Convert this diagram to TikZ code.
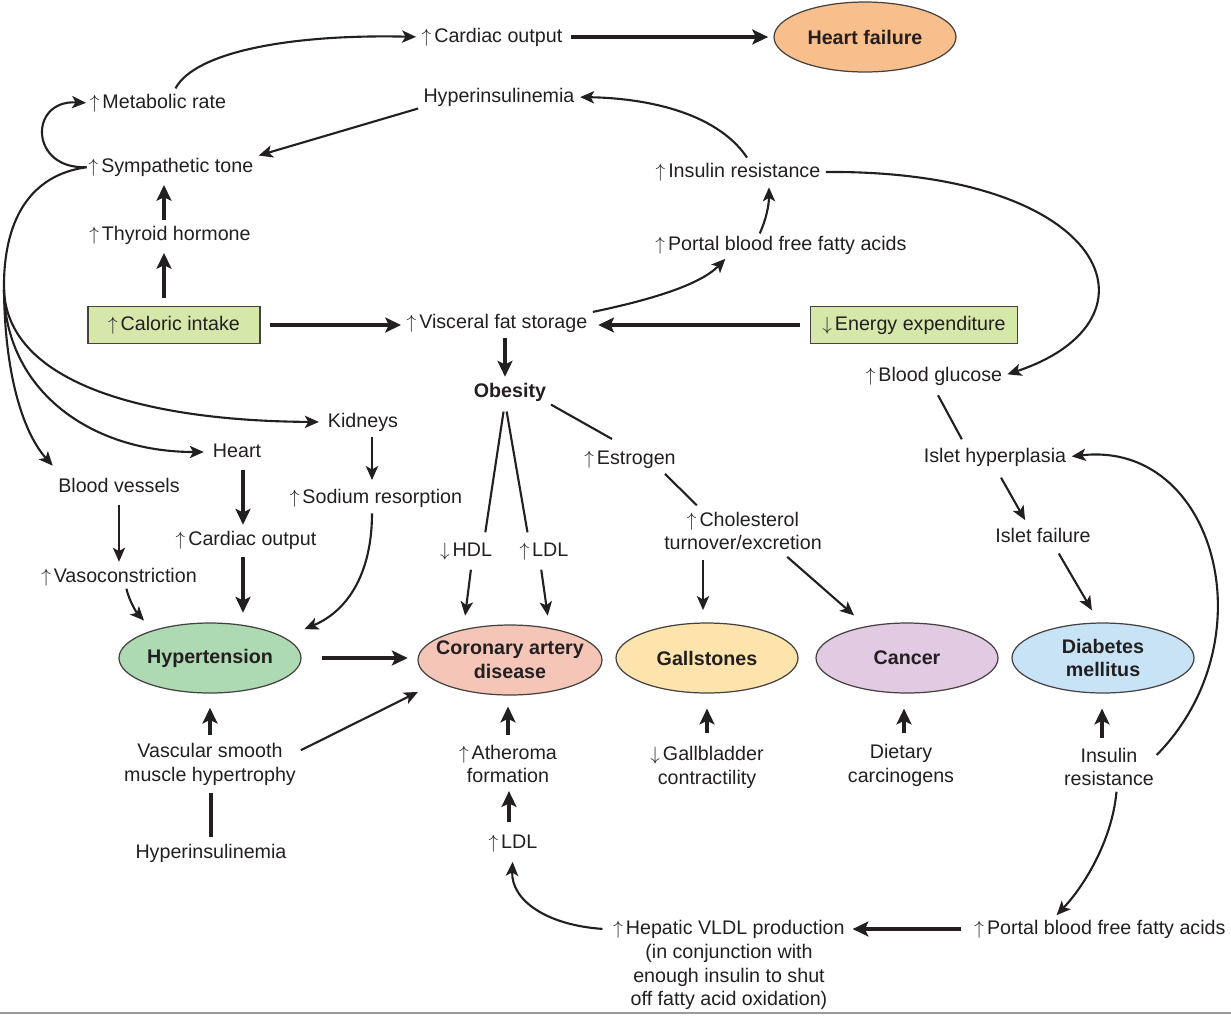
\documentclass[tikz,border=0pt]{standalone}
\usepackage{fontspec}
\setmainfont{Liberation Sans}
\usetikzlibrary{arrows.meta,shapes.geometric}
\definecolor{ink}{HTML}{231F20}
\definecolor{hfc}{HTML}{F8BF8C}
\definecolor{htc}{HTML}{ADDAB2}
\definecolor{cadc}{HTML}{F5C6B8}
\definecolor{gsc}{HTML}{FDE3AC}
\definecolor{canc}{HTML}{E2CAE3}
\definecolor{dmc}{HTML}{C8E3F5}
\definecolor{boxc}{HTML}{D5E8AA}
\newcommand\fsz{\fontsize{11.2}{13.6}\selectfont}
\newcommand\upar{$\uparrow$\hspace{0.15em}}
\newcommand\dnar{$\downarrow$\hspace{0.15em}}
\tikzset{
  txt/.style={inner sep=0pt, text height=8.5pt, text depth=2.5pt, text=ink, font=\fsz},
  txtm/.style={inner sep=0pt, align=center, text=ink, font=\fsz},
  ell/.style={ellipse, draw=ink!85, line width=0.7pt, minimum width=3.64cm, minimum height=1.4cm, inner sep=0pt},
  ellt/.style={font=\fsz\bfseries, align=center, text=ink, inner sep=0pt},
  gbox/.style={draw=ink!85, line width=0.7pt, fill=boxc, minimum width=3.44cm, minimum height=0.74cm, inner sep=0pt, text=ink, font=\fsz},
  arr/.style={draw=ink, line width=1.2pt, -{Stealth[length=8pt,width=7pt,inset=2pt]}, shorten <=3pt, shorten >=3pt},
  tarr/.style={draw=ink, line width=2.2pt, -{Stealth[length=9pt,width=8.5pt,inset=2pt]}, shorten <=3pt, shorten >=3pt},
  ln/.style={draw=ink, line width=1.2pt},
  tln/.style={draw=ink, line width=2.2pt}
}
\begin{document}
\begin{tikzpicture}[x=0.02cm,y=-0.02cm]
\useasboundingbox (0,0) rectangle (1231,1015);
% ---------- nodes ----------
\node[txt] (cardA) at (492,37) {\upar Cardiac output};
\node[ell,fill=hfc,label={[ellt]center:Heart failure}] (hf) at (865,37) {};
\node[txt] (metab) at (158,103) {\upar Metabolic rate};
\node[txt] (hypA) at (499,97) {Hyperinsulinemia};
\node[txt] (symp) at (171,167) {\upar Sympathetic tone};
\node[txt] (insA) at (738,172) {\upar Insulin resistance};
\node[txt] (thyr) at (170,235) {\upar Thyroid hormone};
\node[txt] (portA) at (781,245) {\upar Portal blood free fatty acids};
\node[gbox] (cal) at (174,325) {\upar Caloric intake};
\node[txt] (visc) at (497,323) {\upar Visceral fat storage};
\node[gbox,minimum width=4.14cm] (energy) at (914,325) {\dnar Energy expenditure};
\node[txt] (bglu) at (934,376) {\upar Blood glucose};
\node[txt,font=\fsz\bfseries] (obes) at (510,392) {Obesity};
\node[txt] (kid) at (363,422) {Kidneys};
\node[txt] (heart) at (237,452) {Heart};
\node[txt] (estr) at (630,459) {\upar Estrogen};
\node[txt] (islh) at (995,457) {Islet hyperplasia};
\node[txt] (bv) at (119,487) {Blood vessels};
\node[txt] (sod) at (376,498) {\upar Sodium resorption};
\node[txtm] (chol) at (743,531) {\upar Cholesterol\\turnover/excretion};
\node[txt] (cardB) at (246,540) {\upar Cardiac output};
\node[txt] (hdl) at (466,551) {\dnar HDL};
\node[txt] (ldlA) at (544,551) {\upar LDL};
\node[txt] (islf) at (1043,537) {Islet failure};
\node[txt] (vaso) at (119,577) {\upar Vasoconstriction};
\node[ell,fill=htc,label={[ellt]center:Hypertension}] (ht) at (210,658) {};
\node[ell,fill=cadc,minimum width=3.68cm,label={[ellt]center:Coronary artery\\disease}] (cad) at (510,660) {};
\node[ell,fill=gsc,label={[ellt]center:Gallstones}] (gs) at (707,658) {};
\node[ell,fill=canc,label={[ellt]center:Cancer}] (can) at (907,658) {};
\node[ell,fill=dmc,label={[ellt]center:Diabetes\\mellitus}] (dm) at (1103,658) {};
\node[txtm] (vsm) at (210,764) {Vascular smooth\\muscle hypertrophy};
\node[txtm] (ath) at (508,764) {\upar Atheroma\\formation};
\node[txtm] (gb) at (707,767) {\dnar Gallbladder\\contractility};
\node[txtm] (diet) at (901,765) {Dietary\\carcinogens};
\node[txtm] (insB) at (1109,767) {Insulin\\resistance};
\node[txt] (hypB) at (211,853) {Hyperinsulinemia};
\node[txt] (ldlB) at (513,843) {\upar LDL};
\node[txtm] (hep) at (729,965) {\upar Hepatic VLDL production\\(in conjunction with\\enough insulin to shut\\off fatty acid oxidation)};
\node[txt] (portB) at (1100,929) {\upar Portal blood free fatty acids};
\coordinate (fan) at (4,290);
% ---------- top ----------
\draw[arr] ([xshift=0.3cm]metab.north) .. controls (195,52) and (290,34) .. (cardA.west);
\draw[tarr, shorten <=5pt] (cardA.east) -- (hf.west);
\draw[arr, shorten <=1pt, shorten >=2pt] (symp.west) .. controls (30,170) and (28,100) .. (metab.west);
\draw[arr] (hypA.south west) -- (symp.north east);
\draw[arr] ([xshift=0.24cm]insA.north) .. controls (715,110) and (640,98) .. (hypA.east);
\draw[arr, shorten <=1pt] ([xshift=-0.44cm]portA.north) .. controls (766,220) and (769,205) .. ([xshift=0.62cm]insA.south);
\draw[arr] (visc.north east) .. controls (650,300) and (700,285) .. ([xshift=-1.04cm]portA.south);
\draw[arr] (insA.east) .. controls (1110,170) and (1170,320) .. (bglu.east);
\draw[tarr, shorten <=5.5pt] (cal.east) -- (cal.east -| visc.west);
\draw[tarr, shorten <=5.5pt, shorten >=6pt] (energy.west) -- (energy.west -| visc.east);
\draw[tarr, shorten <=4.5pt, shorten >=4.5pt] ([xshift=-0.2cm]cal.north) -- ([xshift=-0.2cm]cal.north |- thyr.south);
\draw[tarr, shorten >=4.5pt] ([xshift=-0.12cm]thyr.north) -- ([xshift=-0.12cm]thyr.north |- symp.south);
\draw[tarr] ([xshift=0.16cm]visc.south) -- ([xshift=0.16cm]visc.south |- obes.north);
% ---------- sympathetic fan ----------
\draw[ln, shorten <=1pt] (symp.west) .. controls (30,175) and (3,220) .. (fan);
\draw[arr, shorten <=0pt, shorten >=5pt] (fan) .. controls (8,385) and (150,421) .. (kid.west);
\draw[arr, shorten <=0pt, shorten >=5pt] (fan) .. controls (5,390) and (90,452) .. (heart.west);
\draw[arr, shorten <=0pt, shorten >=1pt] (fan) .. controls (5,380) and (25,435) .. ([shift={(-0.08cm,0.2cm)}]bv.north west);
% ---------- hypertension inputs ----------
\draw[arr, shorten >=4.5pt] ([xshift=0.18cm]kid.south) -- ([xshift=0.18cm]kid.south |- sod.north);
\draw[tarr, shorten <=4.5pt] ([xshift=0.12cm]heart.south) -- ([xshift=0.12cm]heart.south |- cardB.north);
\draw[arr, shorten <=4.5pt] (bv.south) -- (bv.south |- vaso.north);
\draw[tarr, shorten <=4pt, shorten >=5.5pt] ([xshift=-0.06cm]cardB.south) -- ([xshift=-0.06cm]cardB.south |- ht.north);
\draw[arr, shorten <=1pt, shorten >=1pt] ([xshift=0.14cm]vaso.south) .. controls (129,600) and (136,612) .. ([yshift=0.22cm]ht.north west);
\draw[arr, shorten >=1pt] ([xshift=-0.08cm]sod.south) .. controls (372,570) and (350,610) .. ([shift={(0.56cm,0.06cm)}]ht.north east);
\draw[tarr, shorten <=11.5pt, shorten >=5.5pt] (ht.east) -- (ht.east -| cad.west);
% ---------- obesity branches ----------
\draw[ln, shorten <=5.5pt, shorten >=5pt] ([xshift=-0.1cm]obes.south) -- ([xshift=0.36cm]hdl.north);
\draw[ln, shorten <=5.5pt, shorten >=5pt] ([xshift=-0.1cm]obes.south) -- ([xshift=-0.3cm]ldlA.north);
\draw[arr, shorten <=5pt, shorten >=5pt] ([xshift=0.12cm]hdl.south) -- ([xshift=-0.92cm]cad.north);
\draw[arr, shorten <=5pt, shorten >=5pt] ([xshift=-0.08cm]ldlA.south) -- ([xshift=0.78cm]cad.north);
\draw[ln, shorten <=3pt] (obes.south east) -- ([shift={(-0.36cm,0.2cm)}]estr.north);
\draw[ln, shorten <=4pt, shorten >=1pt] ([xshift=0.6cm]estr.south) -- ([shift={(-0.9cm,0.1cm)}]chol.north);
\draw[arr, shorten <=5.5pt, shorten >=7pt] ([xshift=-0.8cm]chol.south) -- ([xshift=-0.8cm]chol.south |- gs.north);
\draw[arr, shorten <=5.5pt, shorten >=6pt] ([xshift=0.74cm]chol.south) -- ([xshift=-0.9cm]can.north);
% ---------- diabetes side ----------
\draw[ln, shorten <=6pt, shorten >=5pt] ([xshift=-0.02cm]bglu.south) -- ([xshift=-0.58cm]islh.north);
\draw[arr, shorten <=7pt, shorten >=4.5pt] (islh.south) -- ([xshift=-0.28cm]islf.north);
\draw[arr, shorten <=4.3pt, shorten >=8pt] ([xshift=0.24cm]islf.south) -- ([xshift=-0.08cm]dm.north);
\draw[arr, shorten <=2pt] ([yshift=-0.2cm]insB.north east) .. controls (1270,640) and (1215,440) .. (islh.east);
\draw[tarr, shorten <=5.5pt, shorten >=8.5pt] ([xshift=-0.14cm]insB.north) -- ([xshift=-0.14cm]insB.north |- dm.south);
% ---------- bottom ----------
\draw[tarr, shorten <=4.3pt, shorten >=8pt] (vsm.north) -- (vsm.north |- ht.south);
\draw[arr, shorten <=3pt, shorten >=1pt] ([yshift=-0.2cm]vsm.north east) -- ([shift={(-0.5cm,-0.12cm)}]cad.south west);
\draw[tln, shorten <=3.4pt, shorten >=4.3pt] (hypB.north) -- (hypB.north |- vsm.south);
\draw[tarr, shorten <=5.4pt, shorten >=6.2pt] (ath.north) -- (ath.north |- cad.south);
\draw[tarr, shorten <=6.3pt, shorten >=4.3pt] ([xshift=-0.08cm]ldlB.north) -- ([xshift=-0.08cm]ldlB.north |- ath.south);
\draw[tarr, shorten <=7pt, shorten >=8.5pt] (gb.north) -- (gb.north |- gs.south);
\draw[tarr, shorten <=5.9pt, shorten >=8.5pt] ([xshift=0.06cm]diet.north) -- ([xshift=0.06cm]diet.north |- can.south);
\draw[arr, shorten <=6pt, shorten >=5pt] ([yshift=-0.2cm]hep.north west) .. controls (546,925) and (511,900) .. (ldlB.south);
\draw[tarr, shorten <=7.4pt, shorten >=4.3pt] (portB.west) -- (portB.west -| hep.east);
\draw[arr, shorten <=3pt] ([xshift=0.16cm]insB.south) .. controls (1112,840) and (1085,885) .. ([xshift=-0.94cm]portB.north);
% bottom rule
\draw[gray!80, line width=1.2pt] (0,1013) -- (1231,1013);
\end{tikzpicture}
\end{document}
